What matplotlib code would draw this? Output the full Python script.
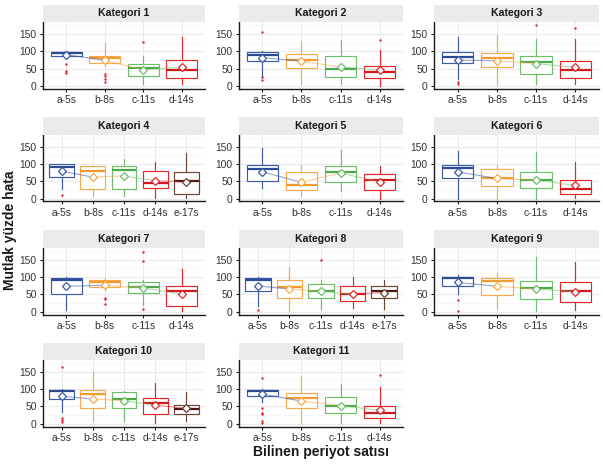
import matplotlib
matplotlib.use("Agg")
import matplotlib.pyplot as plt
import numpy as np

plt.rcParams['font.family'] = ['Liberation Sans', 'DejaVu Sans']

panel_titles = ['Kategori 1', 'Kategori 2', 'Kategori 3', 'Kategori 4', 'Kategori 5', 'Kategori 6',
                'Kategori 7', 'Kategori 8', 'Kategori 9', 'Kategori 10', 'Kategori 11']
panel_groups = [
    ['a-5s', 'b-8s', 'c-11s', 'd-14s'],
    ['a-5s', 'b-8s', 'c-11s', 'd-14s'],
    ['a-5s', 'b-8s', 'c-11s', 'd-14s'],
    ['a-5s', 'b-8s', 'c-11s', 'd-14s', 'e-17s'],
    ['a-5s', 'b-8s', 'c-11s', 'd-14s'],
    ['a-5s', 'b-8s', 'c-11s', 'd-14s'],
    ['a-5s', 'b-8s', 'c-11s', 'd-14s'],
    ['a-5s', 'b-8s', 'c-11s', 'd-14s', 'e-17s'],
    ['a-5s', 'b-8s', 'c-11s', 'd-14s'],
    ['a-5s', 'b-8s', 'c-11s', 'd-14s', 'e-17s'],
    ['a-5s', 'b-8s', 'c-11s', 'd-14s'],
]

whisker_low = [
    [84, 58, 6, 6], [29, 6, 6, 0], [21, 4, 7, 7], [27, 6, 6, 3, 3], [31, 8, 22, 0], [0, 0, 0, 3],
    [5, 62, 19, 3], [16, 3, 7, 10, 7], [50, 7, 3, 5], [33, 8, 8, 3, 8], [62, 3, 3, 3],
]
q1 = [
    [88, 67, 28, 22], [72, 53, 27, 22], [68, 56, 35, 24], [63, 27, 29, 31, 12], [50, 24, 48, 25],
    [58, 36, 31, 14], [52, 71, 54, 16], [60, 38, 38, 30, 38], [74, 48, 36, 27], [71, 46, 46, 27, 27],
    [79, 44, 31, 15],
]
median = [
    [95, 82, 53, 46], [91, 74, 50, 41], [85, 82, 70, 47], [91, 81, 82, 44, 50], [84, 39, 76, 55],
    [88, 60, 53, 27], [90, 84, 71, 60], [90, 71, 59, 50, 60], [98, 88, 68, 60], [95, 84, 72, 60, 41],
    [93, 74, 50, 31],
]
q3 = [
    [99, 88, 63, 74], [99, 94, 86, 58], [99, 96, 87, 71], [100, 95, 93, 81, 76], [98, 76, 93, 71],
    [98, 85, 77, 55], [98, 90, 86, 74], [98, 90, 79, 74, 74], [100, 98, 89, 86], [98, 96, 91, 74, 53],
    [98, 88, 76, 52],
]
whisker_high = [
    [100, 124, 86, 143], [100, 129, 132, 105], [141, 148, 135, 136], [100, 95, 114, 105, 133],
    [145, 98, 140, 95], [136, 98, 134, 105], [100, 98, 92, 123], [100, 128, 90, 100, 92],
    [105, 111, 157, 144], [100, 150, 95, 117, 90], [100, 138, 115, 105],
]
mean = [
    [91, 74, 47, 54], [82, 72, 55, 46], [75, 73, 65, 54], [79, 62, 65, 52, 47], [77, 47, 74, 48],
    [77, 58, 53, 38], [73, 76, 68, 50], [74, 65, 59, 50, 55], [84, 73, 65, 57], [79, 71, 66, 53, 44],
    [85, 65, 52, 38],
]
outliers = [
    [[65, 44, 39], [34, 28, 20, 12], [127], []],
    [[156, 25, 18], [], [], [134]],
    [[11, 6], [], [177], [168]],
    [[10], [], [], [], []],
    [[], [], [], []],
    [[], [], [], []],
    [[], [38, 35, 21], [171, 145, 7], []],
    [[5], [], [149], [], []],
    [[33, 3], [], [], []],
    [[164, 17, 10, 5], [], [], [], []],
    [[131, 44, 31, 27, 8, 3], [], [], [140]],
]

group_colors = {'a-5s': '#3C5AA5', 'b-8s': '#F7A94C', 'c-11s': '#6DBF6A',
                'd-14s': '#E3262B', 'e-17s': '#6B4433'}
median_colors = {'a-5s': '#2D4A94', 'b-8s': '#F29A33', 'c-11s': '#4EA84B',
                 'd-14s': '#D01A1F', 'e-17s': '#4A1C0F'}

W, H = 603, 467
fig = plt.figure(figsize=(W / 100, H / 100), dpi=100)

col_x = [(43, 205), (239, 403), (434, 599)]
row_top = [22, 134.5, 247.5, 359.5]
panel_h = 67
strip_h = 17

def to_fig(x0, x1, ytop, ybot):
    return [x0 / W, 1 - ybot / H, (x1 - x0) / W, (ybot - ytop) / H]

for i, title in enumerate(panel_titles):
    r, c = divmod(i, 3)
    x0, x1 = col_x[c]
    yt = row_top[r]
    ax = fig.add_axes(to_fig(x0, x1, yt, yt + panel_h))
    sax = fig.add_axes(to_fig(x0, x1, yt - strip_h, yt))
    sax.set_facecolor('#EBEBEB')
    sax.set_xticks([]); sax.set_yticks([])
    for s in sax.spines.values():
        s.set_visible(False)
    sax.text(0.5, 0.5, title, ha='center', va='center', fontsize=7.6, fontweight='bold',
             color='#1A1A1A', transform=sax.transAxes)

    groups = panel_groups[i]
    n = len(groups)
    pos = np.arange(1, n + 1)
    ax.set_xlim(0.4, n + 0.6)
    ax.set_ylim(-8.5, 185)
    for yv in [0, 50, 100, 150]:
        ax.axhline(yv, color='#EBEBEB', lw=0.8, zorder=0)
    for yv in [25, 75, 125, 175]:
        ax.axhline(yv, color='#F3F3F3', lw=0.5, zorder=0)
    for xv in pos:
        ax.axvline(xv, color='#EBEBEB', lw=0.8, zorder=0)

    for j, g in enumerate(groups):
        col = group_colors[g]
        st = [{'whislo': whisker_low[i][j], 'q1': q1[i][j], 'med': median[i][j],
               'q3': q3[i][j], 'whishi': whisker_high[i][j], 'fliers': []}]
        ax.bxp(st, positions=[pos[j]], widths=0.8, showfliers=False, showcaps=False,
               patch_artist=True,
               boxprops=dict(facecolor='white', edgecolor=col, lw=0.85),
               whiskerprops=dict(color=col, lw=0.85),
               medianprops=dict(color=median_colors[g], lw=1.6),
               manage_ticks=False, zorder=2)
        fl = outliers[i][j]
        if fl:
            ax.scatter([pos[j]] * len(fl), fl, s=3, color='#E3262B', zorder=4, lw=0)

    means = mean[i]
    for j in range(n - 1):
        ax.plot(pos[j:j + 2], means[j:j + 2], color=group_colors[groups[j]], lw=0.8,
                alpha=0.55, zorder=3)
    for j, g in enumerate(groups):
        ax.plot(pos[j], means[j], marker='D', ms=4.2, mfc='white', mec=group_colors[g],
                mew=0.9, zorder=5)

    ax.set_xticks(pos)
    ax.set_xticklabels(groups)
    ax.set_yticks([0, 50, 100, 150])
    ax.tick_params(axis='both', labelsize=7.4, length=2.5, width=0.8, colors='#1A1A1A',
                   labelcolor='#333333', pad=2)
    for side in ['top', 'right']:
        ax.spines[side].set_visible(False)
    for side in ['left', 'bottom']:
        ax.spines[side].set_color('#1A1A1A')
        ax.spines[side].set_linewidth(1.0)
    ax.set_facecolor('white')

fig.text(321 / W, 1 - 452 / H, 'Bilinen periyot satısı', ha='center', va='center',
         fontsize=10, fontweight='bold', color='#1A1A1A')
fig.text(10 / W, 1 - 230 / H, 'Mutlak yüzde hata', ha='center', va='center', rotation=90,
         fontsize=10, fontweight='bold', color='#1A1A1A')

fig.savefig('out.png', dpi=100)
